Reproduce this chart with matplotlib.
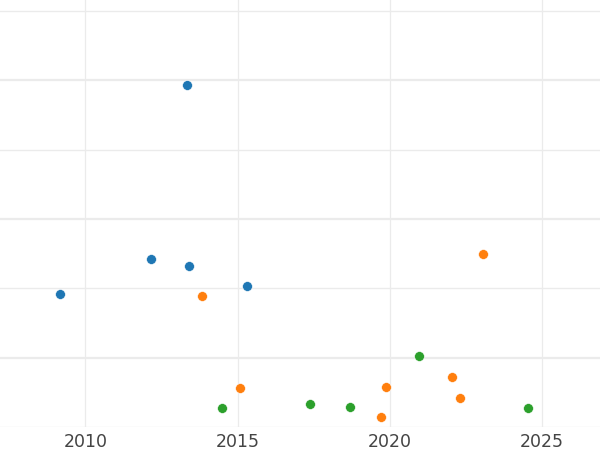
import matplotlib
matplotlib.use('Agg')
import matplotlib.pyplot as plt
from matplotlib.ticker import MultipleLocator

# three groups, year vs value (y scale unlabeled in the original)
blue_x = [2009.18, 2012.16, 2013.40, 2015.30, 2013.35]
blue_y = [1.92, 2.42, 2.32, 2.04, 4.93]
orange_x = [2013.84, 2015.09, 2019.88, 2019.70, 2022.05, 2022.30, 2023.07]
orange_y = [1.89, 0.56, 0.58, 0.15, 0.72, 0.42, 2.50]
green_x = [2014.48, 2017.39, 2018.70, 2020.96, 2024.52]
green_y = [0.27, 0.33, 0.29, 1.03, 0.27]

xticks = [2010, 2015, 2020, 2025]

fig = plt.figure(figsize=(6, 4.5), dpi=100)
ax = fig.add_axes([0, 0.0511, 1, 0.9489])

for xs, ys, c in [(blue_x, blue_y, '#1f77b4'),
                  (orange_x, orange_y, '#ff7f0e'),
                  (green_x, green_y, '#2ca02c')]:
    ax.scatter(xs, ys, s=50, color=c, edgecolor='white', linewidth=0.4, zorder=3)

ax.set_xlim(2007.2, 2026.9)
ax.set_ylim(0, 6.16)
ax.set_xticks(xticks)
ax.set_xticklabels([str(t) for t in xticks])
ax.yaxis.set_major_locator(MultipleLocator(2, offset=1))
ax.yaxis.set_minor_locator(MultipleLocator(1))
ax.set_yticklabels([])

ax.grid(True, which='major', axis='y', color='#ebebeb', linewidth=1.6)
ax.grid(True, which='minor', axis='y', color='#ebebeb', linewidth=1.0)
ax.grid(True, which='major', axis='x', color='#ebebeb', linewidth=0.9)
ax.tick_params(axis='both', which='both', length=0, labelsize=12.5,
               labelcolor='#444444', pad=4)
ax.tick_params(axis='y', which='both', labelleft=False)
for s in ax.spines.values():
    s.set_visible(False)
ax.set_axisbelow(True)

fig.savefig('out.png', dpi=100)
